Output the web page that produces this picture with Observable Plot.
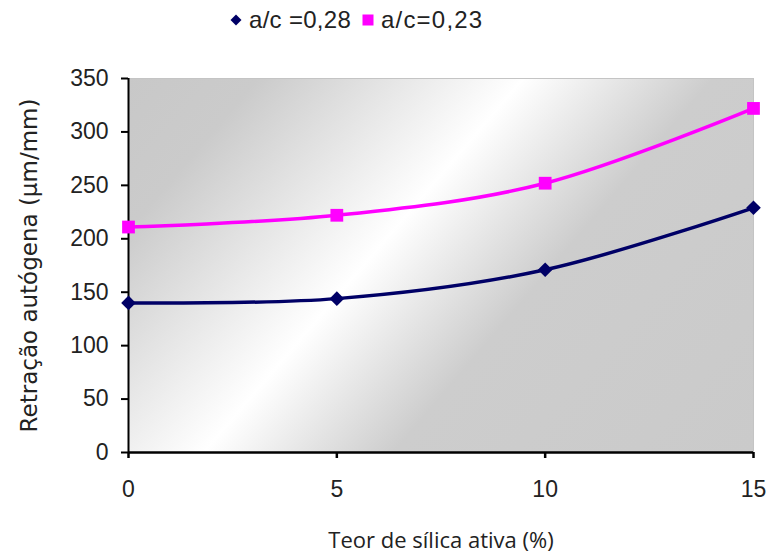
<!DOCTYPE html>
<html><head><meta charset="utf-8">
<script src="https://cdn.jsdelivr.net/npm/d3@7"></script>
<script src="https://cdn.jsdelivr.net/npm/@observablehq/plot@0.6"></script>
<style>
html,body{margin:0;padding:0;background:#fff;}
body{width:767px;height:555px;overflow:hidden;position:relative;}
#legend{position:relative;height:40px;font-family:"Liberation Sans",Arial,sans-serif;font-size:24px;color:#222;}
#legend .item{position:absolute;top:5px;display:flex;align-items:center;line-height:30px;}
#legend svg{margin-right:6px;}
</style></head><body>
<div id="legend"></div>
<div id="chart"></div>
<script>
const xValues = [0, 5, 10, 15];
const seriesA = [140, 144, 171, 229];   // a/c =0,28
const seriesB = [211, 222, 252, 322];   // a/c=0,23
const seriesNames = ["a/c =0,28", "a/c=0,23"];
const seriesColors = ["#000066", "#ff00ff"];
const xTicks = [0, 5, 10, 15];
const yTicks = [0, 50, 100, 150, 200, 250, 300, 350];
const xLabel = "Teor de sílica ativa (%)";
const yLabel = "Retração autógena (µm/mm)";

const dataA = xValues.map((x, i) => ({x, y: seriesA[i], s: seriesNames[0]}));
const dataB = xValues.map((x, i) => ({x, y: seriesB[i], s: seriesNames[1]}));

// legend
const legend = document.getElementById("legend");
const legendX = [229, 361];
seriesNames.forEach((name, i) => {
  const item = document.createElement("div");
  item.className = "item";
  item.style.left = legendX[i] + "px";
  const sym = i === 0
    ? `<svg width="14" height="14"><path d="M7,1.5L12.5,7L7,12.5L1.5,7Z" fill="${seriesColors[i]}"/></svg>`
    : `<svg width="14" height="14"><rect x="1.5" y="1.5" width="11" height="11" fill="${seriesColors[i]}"/></svg>`;
  item.innerHTML = sym + `<span style="letter-spacing:${i === 0 ? 0.3 : 1.2}px">${name}</span>`;
  legend.appendChild(item);
});

const chart = Plot.plot({
  width: 767,
  height: 515,
  marginLeft: 128,
  marginRight: 14,
  marginTop: 38,
  marginBottom: 103,
  style: {fontFamily: "'Liberation Sans', Arial, sans-serif", fontSize: "23px", color: "#222", background: "#fff", overflow: "visible"},
  x: {domain: [0, 15], label: null},
  y: {domain: [0, 350], label: null},
  marks: [
    Plot.frame({fill: "url(#bgGrad)", stroke: "#c4c4c4", strokeWidth: 1}),
    Plot.axisX({ticks: xTicks, tickSize: 6, tickPadding: 22, stroke: "#000", strokeWidth: 2.5, fontSize: 23, label: null}),
    Plot.axisY({ticks: yTicks, tickSize: 7, tickPadding: 13, stroke: "#000", strokeWidth: 2, fontSize: 23, label: null}),
    Plot.ruleX([0], {stroke: "#000", strokeWidth: 2}),
    Plot.ruleY([0], {stroke: "#000", strokeWidth: 2.5}),
    Plot.line(dataA, {x: "x", y: "y", stroke: seriesColors[0], strokeWidth: 3.5, curve: "cardinal"}),
    Plot.line(dataB, {x: "x", y: "y", stroke: seriesColors[1], strokeWidth: 3.5, curve: "cardinal"}),
    Plot.dot(dataA, {x: "x", y: "y", fill: seriesColors[0], symbol: "diamond2", r: 6.6, stroke: "none"}),
    Plot.dot(dataB, {x: "x", y: "y", fill: seriesColors[1], symbol: "square", r: 7.2, stroke: "none"}),
    Plot.text([xLabel], {frameAnchor: "bottom", dy: 88, lineAnchor: "middle", textAnchor: "middle", fontFamily: "'Open Sans', sans-serif", fontSize: 22, fill: "#222"}),
    Plot.text([yLabel], {frameAnchor: "left", dx: -99, rotate: -90, lineAnchor: "middle", textAnchor: "middle", fontFamily: "'DejaVu Sans', sans-serif", fontSize: 23, fill: "#222"})
  ]
});

// gradient definition for plot background
const ns = "http://www.w3.org/2000/svg";
const defs = document.createElementNS(ns, "defs");
const grad = document.createElementNS(ns, "linearGradient");
grad.setAttribute("id", "bgGrad");
grad.setAttribute("gradientUnits", "userSpaceOnUse");
grad.setAttribute("x1", "132"); grad.setAttribute("y1", "30");
grad.setAttribute("x2", "679"); grad.setAttribute("y2", "498");
[[0, "#c8c8c8"], [0.14, "#cbcbcb"], [0.42, "#ffffff"], [0.62, "#cdcdcd"], [1, "#cacaca"]].forEach(([o, c]) => {
  const s = document.createElementNS(ns, "stop");
  s.setAttribute("offset", o);
  s.setAttribute("stop-color", c);
  grad.appendChild(s);
});
defs.appendChild(grad);
chart.insertBefore(defs, chart.firstChild);
document.getElementById("chart").appendChild(chart);
</script>
</body></html>
